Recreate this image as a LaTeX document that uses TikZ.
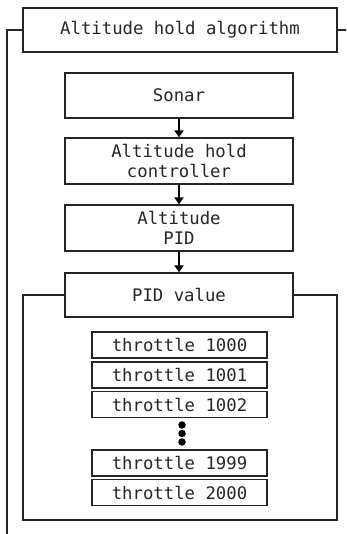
\documentclass[tikz,border=0pt]{standalone}
\usepackage{fontspec}
\setmainfont{DejaVu Sans Mono}
\usetikzlibrary{arrows.meta}
\begin{document}
\begin{tikzpicture}[x=1pt,y=-1pt,
  txt/.style={font=\fontsize{17.3}{19.5}\selectfont, text=black!85},
  box/.style={txt, draw=black!85, line width=1.3pt, fill=white, minimum width=228pt, minimum height=45pt, align=center, inner sep=0pt},
  tbox/.style={txt, draw=black!85, line width=1.3pt, fill=white, minimum width=175pt, minimum height=26pt, inner sep=0pt},
  arr/.style={-{Triangle[length=7pt,width=9pt]}, line width=2.4pt, black},
  frame/.style={draw=black!85, line width=1.3pt},
  dot/.style={circle, fill=black, inner sep=0pt, minimum size=7.5pt}]
\useasboundingbox (0,0) rectangle (346,534);
\begin{scope}
\clip (0,0) rectangle (346,534);
\node[box, minimum width=314pt, minimum height=44pt] (top) at (180,30) {Altitude hold algorithm};
\coordinate (ol) at (7,540);
\coordinate (or) at (352,540);
\draw[frame] (top.west) -- (7,30) -- (ol) -- (or) -- (352,30) -- (top.east);
\end{scope}
\node[box] (sonar) at (179,95.5) {Sonar};
\node[box, minimum height=46pt] (ctrl) at (179,161) {Altitude hold\\controller};
\node[box, minimum height=46pt] (pid) at (179,228) {Altitude\\PID};
\coordinate (fl) at (23,520);
\coordinate (fr) at (337,520);
\draw[frame] (179,295) -| (fl) -- (fr) |- (179,295);
\node[box, minimum height=44pt] (pidval) at (179,295) {PID value};
\draw[arr] (sonar.south) -- (ctrl.north);
\draw[arr] (ctrl.south) -- (pid.north);
\draw[arr] (pid.south) -- (pidval.north);
\node[tbox] (t1000) at (179.5,345) {throttle 1000};
\node[tbox] (t1001) at (179.5,375) {throttle 1001};
\node[tbox] (t1002) at (179.5,404.5) {throttle 1002};
\node[dot] (d1) at (182,425) {};
\node[dot] (d2) at (182,433.5) {};
\node[dot] (d3) at (182,442) {};
\node[tbox] (t1999) at (179.5,463) {throttle 1999};
\node[tbox] (t2000) at (179.5,492.5) {throttle 2000};
\end{tikzpicture}
\end{document}
